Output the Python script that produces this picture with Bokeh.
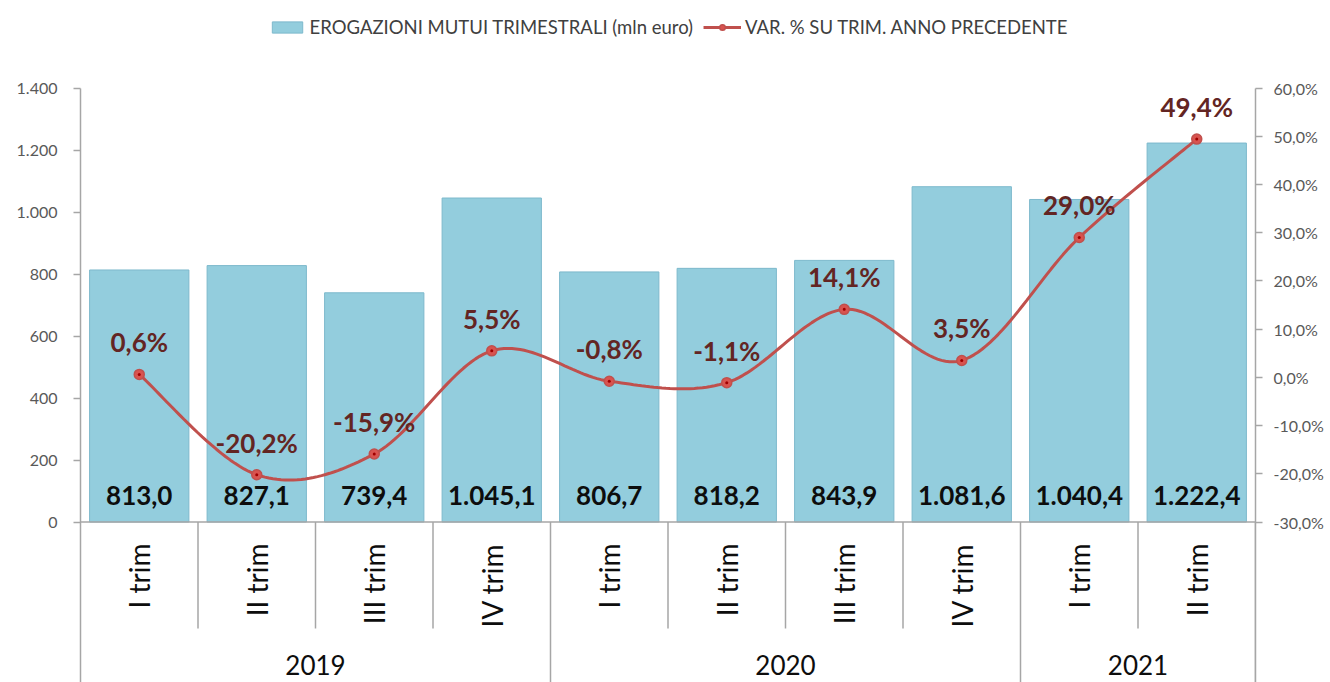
import numpy as np
from bokeh.plotting import figure
from bokeh.models import (Range1d, LinearAxis, FixedTicker, CustomJSTickFormatter,
                          ColumnDataSource, Span, Legend, LegendItem)
from bokeh.core.properties import value
from bokeh.embed import file_html
from bokeh.resources import INLINE

# ---------------- data ----------------
quarters = ["I trim", "II trim", "III trim", "IV trim",
            "I trim", "II trim", "III trim", "IV trim",
            "I trim", "II trim"]
years = ["2019", "2019", "2019", "2019",
         "2020", "2020", "2020", "2020",
         "2021", "2021"]
erogazioni = [813.0, 827.1, 739.4, 1045.1, 806.7, 818.2, 843.9, 1081.6, 1040.4, 1222.4]
var_pct = [0.6, -20.2, -15.9, 5.5, -0.8, -1.1, 14.1, 3.5, 29.0, 49.4]
left_ticks = [0, 200, 400, 600, 800, 1000, 1200, 1400]
right_ticks = [-30, -20, -10, 0, 10, 20, 30, 40, 50, 60]
bar_name = "EROGAZIONI MUTUI TRIMESTRALI (mln euro)"
line_name = "VAR. % SU TRIM. ANNO PRECEDENTE"

# ---------------- layout constants (pixels) ----------------
W, H = 1330, 682
LEFT, RIGHT = 80, 75
Y_TOP_PX, Y_ZERO_PX = 87.5, 521.5      # pixel rows of 1400 and 0
Q_SEP_BOTTOM_PX = 628                   # end of quarter separators
FONT = "Lato"
GRAY = "#A6A6A6"

lmin, lmax = left_ticks[0], left_ticks[-1]
rmin, rmax = right_ticks[0], right_ticks[-1]
ppu = (Y_ZERO_PX - Y_TOP_PX) / (lmax - lmin)
y_end = lmax + Y_TOP_PX / ppu
y_start = lmin - (H - Y_ZERO_PX) / ppu
r_ppu = (Y_ZERO_PX - Y_TOP_PX) / (rmax - rmin)
r_end = rmax + Y_TOP_PX / r_ppu
r_start = rmin - (H - Y_ZERO_PX) / r_ppu

def it_num(v, dec=1):
    s = f"{v:,.{dec}f}"
    return s.replace(",", "X").replace(".", ",").replace("X", ".")

n = len(quarters)
xc = [i + 0.5 for i in range(n)]

p = figure(width=W, height=H, output_backend="svg", toolbar_location=None,
           x_range=Range1d(0, n), y_range=Range1d(y_start, y_end),
           x_axis_location=None, y_axis_location=None,
           min_border_left=LEFT, min_border_right=RIGHT,
           min_border_top=0, min_border_bottom=0)
p.outline_line_color = None
p.grid.visible = False
p.background_fill_color = "white"
p.extra_y_ranges = {"pct": Range1d(r_start, r_end)}

# axes
lax = LinearAxis(ticker=FixedTicker(ticks=left_ticks), bounds=(y_start, lmax),
                 formatter=CustomJSTickFormatter(code="return tick.toFixed(0).replace(/\\B(?=(\\d{3})+(?!\\d))/g, '.');"))
rax = LinearAxis(y_range_name="pct", ticker=FixedTicker(ticks=right_ticks), bounds=(r_start, rmax),
                 formatter=CustomJSTickFormatter(code="return tick.toFixed(1).replace('.', ',') + '%';"))
for ax in (lax, rax):
    ax.axis_line_color = GRAY
    ax.axis_line_width = 1.5
    ax.major_tick_line_color = GRAY
    ax.major_tick_line_width = 1.5
    ax.major_tick_in = 0
    ax.major_tick_out = 7
    ax.minor_tick_line_color = None
    ax.major_label_text_font = FONT
    ax.major_label_text_font_size = "16px"
    ax.major_label_text_color = "#595959"
lax.major_label_standoff = 16
rax.major_label_standoff = 11
p.add_layout(lax, "left")
p.add_layout(rax, "right")

# zero line
p.add_layout(Span(location=0, dimension="width", line_color=GRAY, line_width=1.5))

# bars
bsrc = ColumnDataSource(dict(x=xc, top=erogazioni, lab=[it_num(v) for v in erogazioni]))
bars = p.vbar(x="x", top="top", bottom=0, width=0.845, source=bsrc,
              fill_color="#93CDDD", line_color="#7DB9CC", line_width=1)

# smoothed line (Catmull-Rom through data points)
xs_s, ys_s = [], []
P = list(zip(xc, var_pct))
for i in range(n - 1):
    p0 = P[i - 1] if i > 0 else P[i]
    p1, p2 = P[i], P[i + 1]
    p3 = P[i + 2] if i + 2 < n else P[i + 1]
    t = np.linspace(0, 1, 30)
    for k in range(2):
        a0, a1, a2, a3 = p0[k], p1[k], p2[k], p3[k]
        c = 0.5 * (2 * a1 + (-a0 + a2) * t + (2 * a0 - 5 * a1 + 4 * a2 - a3) * t ** 2
                   + (-a0 + 3 * a1 - 3 * a2 + a3) * t ** 3)
        (xs_s if k == 0 else ys_s).extend(c.tolist())
line = p.line(xs_s, ys_s, y_range_name="pct", line_color="#C0504D", line_width=3)
lsrc = ColumnDataSource(dict(x=xc, y=var_pct, lab=[it_num(v) + "%" for v in var_pct]))
mk = p.scatter(x="x", y="y", source=lsrc, y_range_name="pct", size=10,
               fill_color="#D9534F", line_color="#C0504D", line_width=1.5)
p.scatter(x="x", y="y", source=lsrc, y_range_name="pct", size=3,
          fill_color="#A00000", line_color=None)

# data labels
p.text(x="x", y=0, text="lab", source=bsrc, text_font=value(FONT), text_font_style="bold",
       text_font_size="26px", text_color="#0D0D0D", text_align="center",
       text_baseline="alphabetic", y_offset=-27)
p.text(x="x", y="y", text="lab", source=lsrc, y_range_name="pct", text_font=value(FONT),
       text_font_style="bold", text_font_size="26px", text_color="#632523",
       text_align="center", text_baseline="alphabetic", y_offset=-32)

# category axis drawn inside extended frame
y_qsep = -(Q_SEP_BOTTOM_PX - Y_ZERO_PX) / ppu
year_bounds = [i for i in range(1, n) if years[i] != years[i - 1]]
q_bounds = [i for i in range(1, n) if i not in year_bounds]
p.segment(x0=q_bounds, y0=[0] * len(q_bounds), x1=q_bounds, y1=[y_qsep] * len(q_bounds),
          line_color=GRAY, line_width=1.5)
p.segment(x0=year_bounds, y0=[0] * len(year_bounds), x1=year_bounds,
          y1=[y_start] * len(year_bounds), line_color=GRAY, line_width=1.5)
p.segment(x0=[n], y0=[0], x1=[n], y1=[y_start], line_color=GRAY, line_width=1.5)

y_qlab = -(543 - Y_ZERO_PX) / ppu
p.text(x=xc, y=[y_qlab] * n, text=quarters, angle=np.pi / 2, text_font=value(FONT),
       text_font_size="28px", text_color="#0D0D0D", text_align="right",
       text_baseline="middle")

uyears = []
for y in years:
    if y not in uyears:
        uyears.append(y)
ycent = [np.mean([xc[i] for i in range(n) if years[i] == y]) for y in uyears]
y_ylab = -(664 - Y_ZERO_PX) / ppu
p.text(x=ycent, y=[y_ylab] * len(uyears), text=uyears, text_font=value(FONT),
       text_font_size="26px", text_color="#0D0D0D", text_align="center",
       text_baseline="middle")

# legend
legend = Legend(items=[LegendItem(label=bar_name, renderers=[bars]),
                       LegendItem(label=line_name, renderers=[line, mk])],
                location="top_center", orientation="horizontal",
                label_text_font=FONT, label_text_font_size="18.5px",
                label_text_color="#404040", glyph_width=38, glyph_height=14,
                spacing=10, label_standoff=4, padding=0, margin=16,
                background_fill_alpha=0, border_line_color=None)
p.add_layout(legend)

open("out.html", "w").write(file_html(p, INLINE))
